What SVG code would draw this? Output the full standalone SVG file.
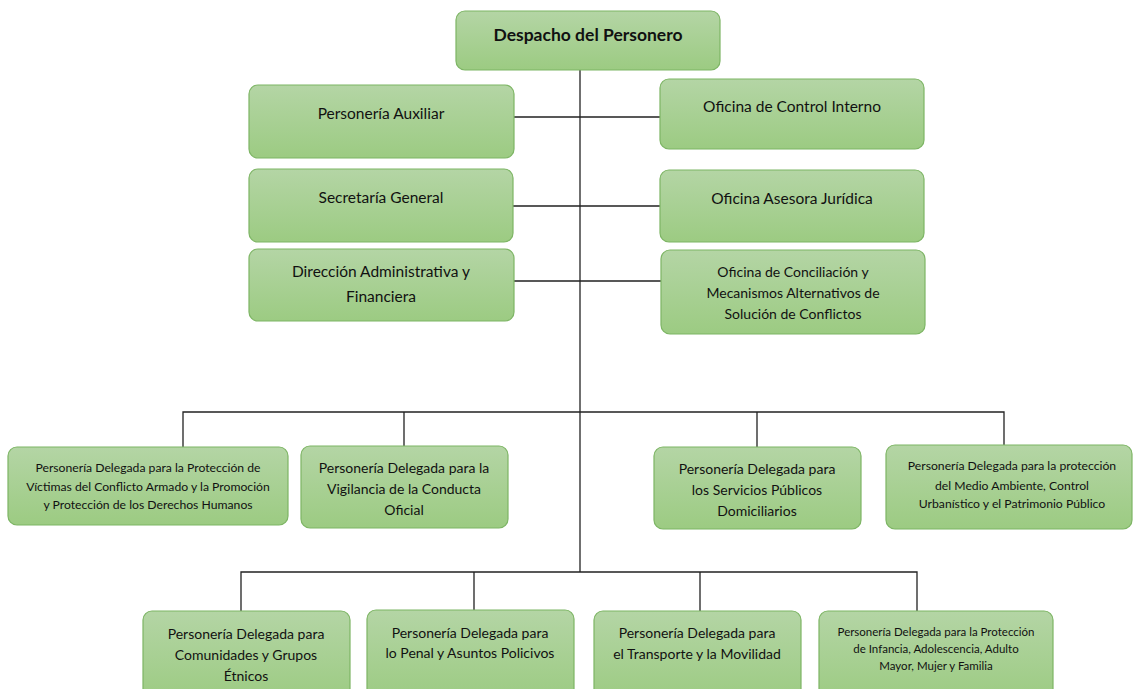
<svg xmlns="http://www.w3.org/2000/svg" width="1133" height="689" viewBox="0 0 1133 689">
<defs>
<linearGradient id="g" x1="0" y1="0" x2="0" y2="1">
<stop offset="0" stop-color="#b4d5a5"/>
<stop offset="1" stop-color="#9ccb82"/>
</linearGradient>
<style>
.n{fill:url(#g);stroke:#7db564;stroke-width:1.2}
.t{font-family:Lato,"Liberation Sans",sans-serif;fill:#111;text-anchor:middle}
.l{font-size:15.5px}
.m{font-size:14px}
.s{font-size:12.2px}
.xs{font-size:11.5px}
.c{stroke:#222;stroke-width:1.3;fill:none}
</style>
</defs>
<rect width="1133" height="689" fill="#fff"/>
<g id="connectors">
<path class="c" d="M580 70V572"/>
<path class="c" d="M514 117H660M513 206H660M514 281H661"/>
<path class="c" d="M183 447V412H1004V446M404 412V446M757 412V447"/>
<path class="c" d="M241 612V572H917V611M474 572V610M700 572V611"/>
</g>
<g id="despacho"><rect class="n" x="456" y="11" width="264" height="59" rx="9"/><text class="t" x="588" y="41" font-size="17.5px" font-weight="bold">Despacho del Personero</text></g>
<g id="auxiliar"><rect class="n" x="249" y="85" width="265" height="73" rx="9"/><text class="t l" x="381" y="119">Personería Auxiliar</text></g>
<g id="control"><rect class="n" x="660" y="79" width="264" height="70" rx="9"/><text class="t l" x="792" y="112">Oficina de Control Interno</text></g>
<g id="secretaria"><rect class="n" x="249" y="169" width="264" height="73" rx="9"/><text class="t l" x="381" y="203">Secretaría General</text></g>
<g id="juridica"><rect class="n" x="660" y="170" width="264" height="72" rx="9"/><text class="t l" x="792" y="204">Oficina Asesora Jurídica</text></g>
<g id="direccion"><rect class="n" x="249" y="249" width="265" height="72" rx="9"/><text class="t l" x="381" y="277">Dirección Administrativa y</text><text class="t l" x="381" y="302">Financiera</text></g>
<g id="conciliacion"><rect class="n" x="661" y="250" width="264" height="84" rx="9"/><text class="t m" x="793" y="277">Oficina de Conciliación y</text><text class="t m" x="793" y="298">Mecanismos Alternativos de</text><text class="t m" x="793" y="319">Solución de Conflictos</text></g>
<g id="victimas"><rect class="n" x="8" y="447" width="280" height="78" rx="9"/><text class="t s" x="148" y="472">Personería Delegada para la Protección de</text><text class="t s" x="148" y="491">Víctimas del Conflicto Armado y la Promoción</text><text class="t s" x="148" y="509">y Protección de los Derechos Humanos</text></g>
<g id="vigilancia"><rect class="n" x="301" y="446" width="207" height="82" rx="9"/><text class="t m" x="404" y="473">Personería Delegada para la</text><text class="t m" x="404" y="494">Vigilancia de la Conducta</text><text class="t m" x="404" y="515">Oficial</text></g>
<g id="servicios"><rect class="n" x="654" y="447" width="207" height="82" rx="9"/><text class="t m" x="757" y="474">Personería Delegada para</text><text class="t m" x="757" y="495">los Servicios Públicos</text><text class="t m" x="757" y="516">Domiciliarios</text></g>
<g id="ambiente"><rect class="n" x="886" y="445" width="246" height="84" rx="9"/><text class="t s" x="1012" y="470">Personería Delegada para la protección</text><text class="t s" x="1012" y="490">del Medio Ambiente, Control</text><text class="t s" x="1012" y="508">Urbanístico y el Patrimonio Público</text></g>
<g id="comunidades"><rect class="n" x="143" y="611" width="207" height="90" rx="9"/><text class="t m" x="246" y="639">Personería Delegada para</text><text class="t m" x="246" y="660">Comunidades y Grupos</text><text class="t m" x="246" y="681">Étnicos</text></g>
<g id="penal"><rect class="n" x="367" y="610" width="207" height="90" rx="9"/><text class="t m" x="470" y="638">Personería Delegada para</text><text class="t m" x="470" y="658">lo Penal y Asuntos Policivos</text></g>
<g id="transporte"><rect class="n" x="594" y="611" width="207" height="90" rx="9"/><text class="t m" x="697" y="638">Personería Delegada para</text><text class="t m" x="697" y="659">el Transporte y la Movilidad</text></g>
<g id="infancia"><rect class="n" x="819" y="611" width="234" height="90" rx="9"/><text class="t xs" x="936" y="636">Personería Delegada para la Protección</text><text class="t xs" x="936" y="653">de Infancia, Adolescencia, Adulto</text><text class="t xs" x="936" y="670">Mayor, Mujer y Familia</text></g>
</svg>
